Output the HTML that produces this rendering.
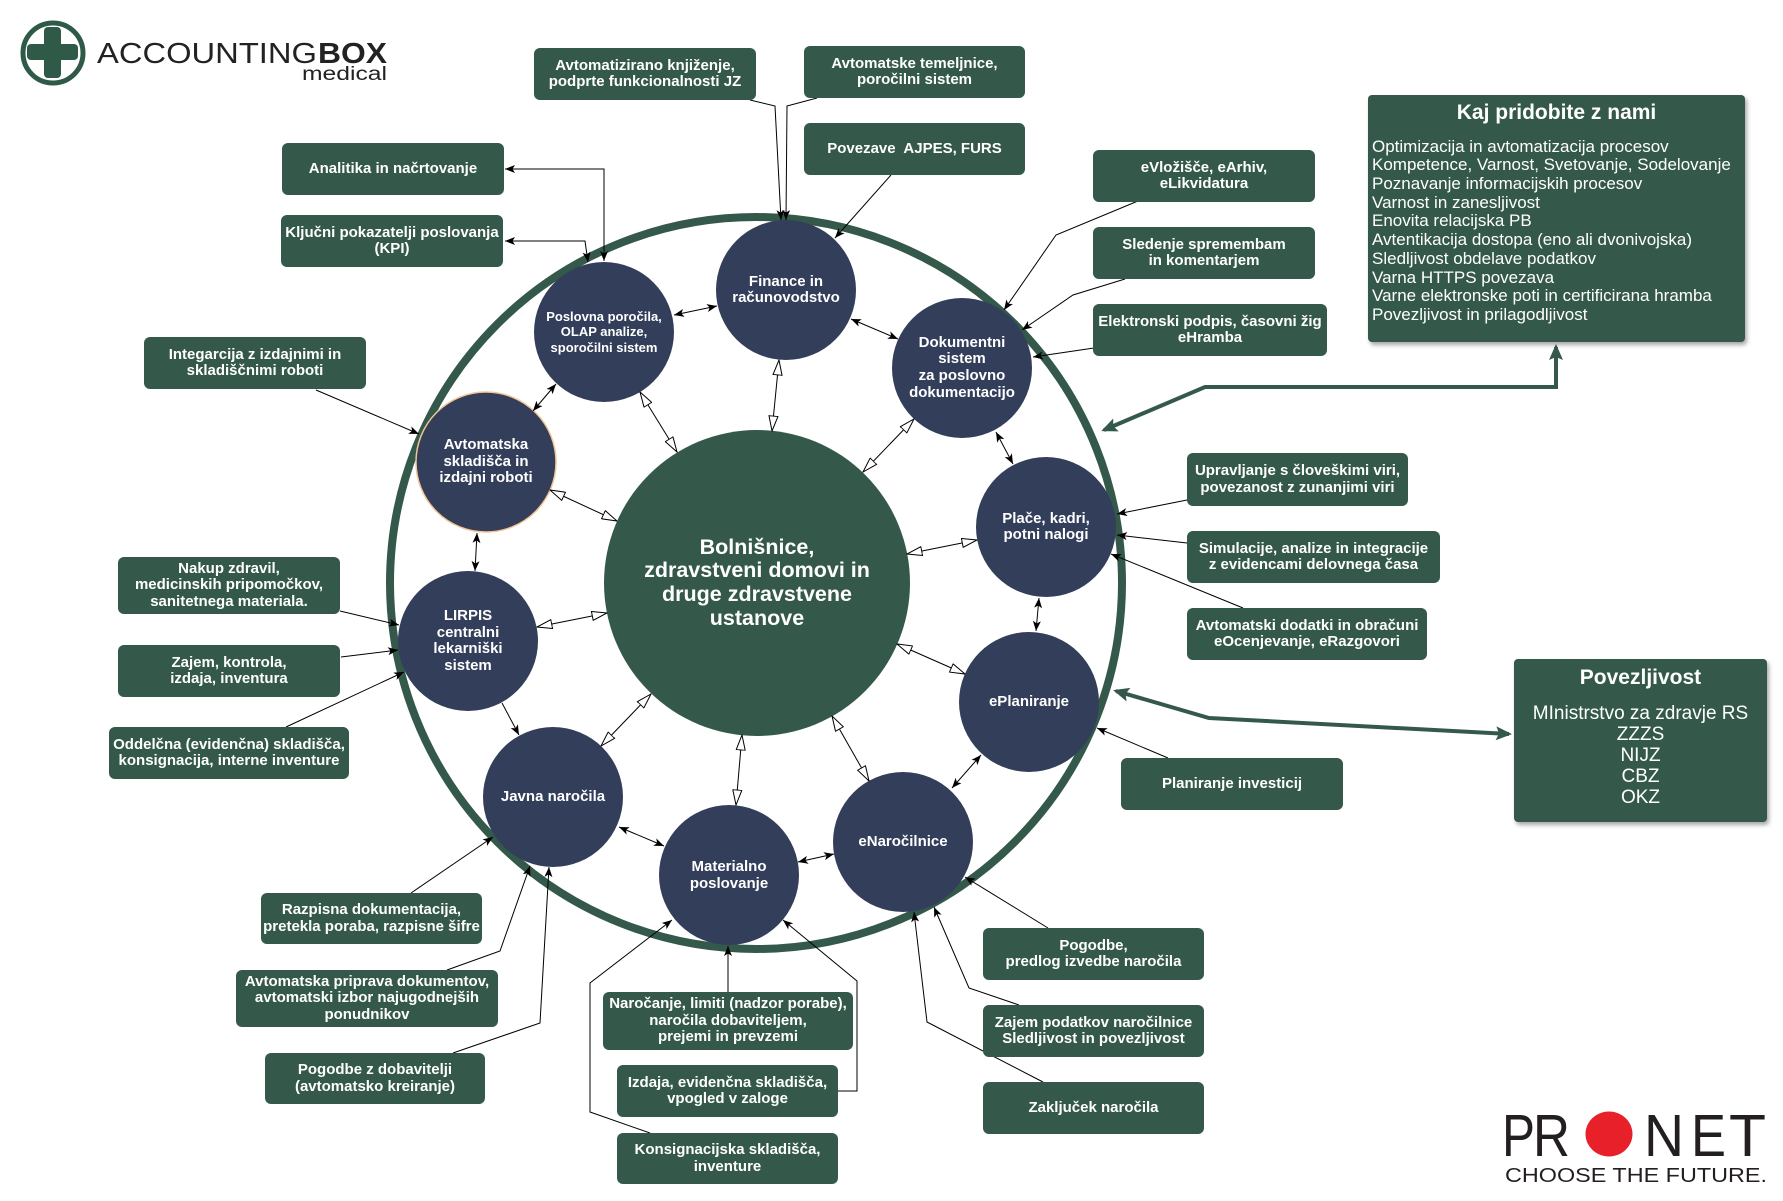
<!DOCTYPE html>
<html><head><meta charset="utf-8">
<style>
html,body{margin:0;padding:0;background:#fff;}
#c{position:relative;width:1783px;height:1201px;overflow:hidden;background:#fff;font-family:"Liberation Sans",Arial,sans-serif;}
svg{position:absolute;left:0;top:0;}
.b{position:absolute;background:#34594b;border-radius:6px;color:#fff;font-weight:bold;font-size:15px;line-height:16.5px;display:flex;align-items:center;justify-content:center;text-align:center;white-space:nowrap;}
.t{position:absolute;width:140px;height:140px;color:#fff;font-weight:bold;font-size:15px;line-height:16.5px;display:flex;align-items:center;justify-content:center;text-align:center;white-space:nowrap;}
</style></head><body><div id="c">
<svg width="1783" height="1201" viewBox="0 0 1783 1201">
<defs>
<marker id="bk" viewBox="0 0 10 8" refX="10" refY="4" markerWidth="10" markerHeight="8" markerUnits="userSpaceOnUse" orient="auto-start-reverse"><path d="M0,0 L10,4 L0,8 L2.5,4 z" fill="#000"/></marker>
<marker id="ho" viewBox="0 0 16 10" refX="15.5" refY="5" markerWidth="16" markerHeight="10" markerUnits="userSpaceOnUse" orient="auto-start-reverse"><path d="M0.5,0.5 L15.5,5 L0.5,9.5 z" fill="#fff" stroke="#000" stroke-width="1"/></marker>
<marker id="gr" viewBox="0 0 16 14" refX="13" refY="7" markerWidth="16" markerHeight="14" markerUnits="userSpaceOnUse" orient="auto-start-reverse"><path d="M0,0 L16,7 L0,14 L3,7 z" fill="#34594b"/></marker>
</defs>

<!-- logo -->
<circle cx="53" cy="53" r="30" fill="none" stroke="#2f5a48" stroke-width="5"/>
<rect x="44" y="27" width="17" height="51" rx="4" fill="#2f5a48"/>
<rect x="27" y="44" width="51" height="16" rx="4" fill="#2f5a48"/>
<text x="97" y="63" font-family="Liberation Sans, sans-serif" font-size="29" fill="#222" textLength="220" lengthAdjust="spacingAndGlyphs">ACCOUNTING</text>
<text x="318" y="63" font-family="Liberation Sans, sans-serif" font-size="29" font-weight="bold" fill="#222" textLength="69" lengthAdjust="spacingAndGlyphs">BOX</text>
<text x="302" y="80" font-family="Liberation Sans, sans-serif" font-size="19" fill="#222" textLength="85" lengthAdjust="spacingAndGlyphs">medical</text>

<!-- ring -->
<circle cx="756" cy="583" r="366" fill="none" stroke="#34594b" stroke-width="8"/>

<!-- center -->
<circle cx="757" cy="583" r="153" fill="#34594b"/>

<!-- satellites -->
<g fill="#333e5a">
<circle cx="786" cy="290" r="70"/>
<circle cx="604" cy="332" r="70"/>
<circle cx="962" cy="368" r="70"/>
<circle cx="486" cy="462" r="70" stroke="#f2c594" stroke-width="1.5"/>
<circle cx="468" cy="641" r="70"/>
<circle cx="553" cy="797" r="70"/>
<circle cx="729" cy="875" r="70"/>
<circle cx="903" cy="842" r="70"/>
<circle cx="1029" cy="702" r="70"/>
<circle cx="1046" cy="527" r="70"/>
</g>

<!-- hollow connectors -->
<g fill="none" stroke="#000" stroke-width="1" marker-start="url(#ho)" marker-end="url(#ho)">
<line x1="640" y1="392" x2="677" y2="452"/>
<line x1="779" y1="360" x2="772" y2="431"/>
<line x1="914" y1="419" x2="863" y2="472"/>
<line x1="550" y1="490" x2="617" y2="521"/>
<line x1="537" y1="627" x2="607" y2="613"/>
<line x1="601" y1="746" x2="651" y2="694"/>
<line x1="736" y1="805" x2="742" y2="735"/>
<line x1="869" y1="781" x2="832" y2="716"/>
<line x1="965" y1="674" x2="897" y2="644"/>
<line x1="977" y1="540" x2="907" y2="554"/>
</g>

<!-- satellite-satellite double arrows -->
<g fill="none" stroke="#000" stroke-width="1" marker-start="url(#bk)" marker-end="url(#bk)">
<line x1="674" y1="315" x2="717" y2="306"/>
<line x1="851" y1="319" x2="898" y2="339"/>
<line x1="996" y1="432" x2="1013" y2="464"/>
<line x1="1039" y1="598" x2="1036" y2="631"/>
<line x1="981" y1="755" x2="952" y2="788"/>
<line x1="834" y1="854" x2="798" y2="862"/>
<line x1="664" y1="846" x2="619" y2="827"/>
<line x1="475" y1="571" x2="477" y2="533"/>
<line x1="533" y1="411" x2="556" y2="384"/>
<polyline points="505,169 604,169 604,261"/>
<polyline points="505,241 585,241 588,262"/>
</g>

<!-- single arrows -->
<g fill="none" stroke="#000" stroke-width="1" marker-end="url(#bk)">
<line x1="502" y1="703" x2="519" y2="735"/>
<polyline points="750,100 775,106 781,220"/>
<polyline points="817,98 787,106 786,220"/>
<polyline points="891,175 835,238"/>
<polyline points="1138,201 1056,235 1004,310"/>
<polyline points="1125,279 1073,295 1022,330"/>
<polyline points="1094,348 1033,357"/>
<polyline points="316,390 419,434"/>
<polyline points="340,611 399,625"/>
<polyline points="341,657 398,650"/>
<polyline points="286,727 404,672"/>
<polyline points="1187,500 1117,514"/>
<polyline points="1187,543 1117,535"/>
<polyline points="1243,608 1111,554"/>
<polyline points="1168,758 1097,728"/>
<polyline points="411,893 493,837"/>
<polyline points="447,970 500,951 530,866"/>
<polyline points="453,1053 540,1023 549,867"/>
<polyline points="728,992 728,946"/>
<polyline points="838,1091 857,1091 857,981 783,920"/>
<polyline points="650,1133 590,1112 590,983 672,920"/>
<polyline points="1048,928 965,877"/>
<polyline points="1019,1005 969,988 934,907"/>
<polyline points="1043,1082 927,1022 914,912"/>
</g>

<!-- thick green arrows -->
<g fill="none" stroke="#34594b" stroke-width="4" marker-start="url(#gr)" marker-end="url(#gr)">
<polyline points="1104,430 1205,387 1556,387 1556,347"/>
<polyline points="1116,691 1209,718 1509,734"/>
</g>

<!-- pronet -->
<g font-family="Liberation Sans, sans-serif" fill="#231f20" font-size="59">
<text x="1502" y="1156" textLength="33" lengthAdjust="spacingAndGlyphs">P</text>
<text x="1533" y="1156" textLength="37" lengthAdjust="spacingAndGlyphs">R</text>
<text x="1644" y="1156" textLength="40" lengthAdjust="spacingAndGlyphs">N</text>
<text x="1691" y="1156" textLength="35" lengthAdjust="spacingAndGlyphs">E</text>
<text x="1729" y="1156" textLength="37" lengthAdjust="spacingAndGlyphs">T</text>
</g>
<ellipse cx="1609" cy="1134" rx="23.5" ry="22.5" fill="#e8202a"/>
<text x="1505" y="1182" font-family="Liberation Sans, sans-serif" font-size="20" fill="#231f20" textLength="262" lengthAdjust="spacingAndGlyphs">CHOOSE THE FUTURE.</text>
</svg>

<!-- circle texts -->
<div class="t" style="left:547px;top:443px;width:420px;height:280px;font-size:21.5px;line-height:23.7px;">Bolnišnice,<br>zdravstveni domovi in<br>druge zdravstvene<br>ustanove</div>
<div class="t" style="left:716px;top:220px;line-height:16px;">Finance in<br>računovodstvo</div>
<div class="t" style="left:534px;top:262px;font-size:13px;line-height:15.5px;">Poslovna poročila,<br>OLAP analize,<br>sporočilni sistem</div>
<div class="t" style="left:892px;top:298px;line-height:16.7px;">Dokumentni<br>sistem<br>za poslovno<br>dokumentacijo</div>
<div class="t" style="left:416px;top:392px;">Avtomatska<br>skladišča in<br>izdajni roboti</div>
<div class="t" style="left:398px;top:571px;">LIRPIS<br>centralni<br>lekarniški<br>sistem</div>
<div class="t" style="left:483px;top:727px;">Javna naročila</div>
<div class="t" style="left:659px;top:805px;line-height:17px;">Materialno<br>poslovanje</div>
<div class="t" style="left:833px;top:772px;">eNaročilnice</div>
<div class="t" style="left:959px;top:632px;">ePlaniranje</div>
<div class="t" style="left:976px;top:457px;line-height:16px;">Plače, kadri,<br>potni nalogi</div>

<!-- boxes -->
<div class="b" style="left:534px;top:48px;width:222px;height:52px;">Avtomatizirano knjiženje,<br>podprte funkcionalnosti JZ</div>
<div class="b" style="left:804px;top:46px;width:221px;height:52px;">Avtomatske temeljnice,<br>poročilni sistem</div>
<div class="b" style="left:804px;top:123px;width:221px;height:52px;">Povezave&nbsp; AJPES, FURS</div>
<div class="b" style="left:282px;top:143px;width:222px;height:52px;">Analitika in načrtovanje</div>
<div class="b" style="left:281px;top:215px;width:222px;height:52px;">Ključni pokazatelji poslovanja<br>(KPI)</div>
<div class="b" style="left:144px;top:337px;width:222px;height:52px;">Integarcija z izdajnimi in<br>skladiščnimi roboti</div>
<div class="b" style="left:1093px;top:150px;width:222px;height:52px;">eVložišče, eArhiv,<br>eLikvidatura</div>
<div class="b" style="left:1093px;top:227px;width:222px;height:52px;">Sledenje spremembam<br>in komentarjem</div>
<div class="b" style="left:1093px;top:304px;width:234px;height:52px;">Elektronski podpis, časovni žig<br>eHramba</div>
<div class="b" style="left:1187px;top:453px;width:221px;height:53px;">Upravljanje s človeškimi viri,<br>povezanost z zunanjimi viri</div>
<div class="b" style="left:1187px;top:531px;width:253px;height:52px;">Simulacije, analize in integracije<br>z evidencami delovnega časa</div>
<div class="b" style="left:1187px;top:608px;width:240px;height:52px;">Avtomatski dodatki in obračuni<br>eOcenjevanje, eRazgovori</div>
<div class="b" style="left:1121px;top:758px;width:222px;height:52px;">Planiranje investicij</div>
<div class="b" style="left:118px;top:557px;width:222px;height:57px;">Nakup zdravil,<br>medicinskih pripomočkov,<br>sanitetnega materiala.</div>
<div class="b" style="left:118px;top:645px;width:222px;height:52px;">Zajem, kontrola,<br>izdaja, inventura</div>
<div class="b" style="left:109px;top:727px;width:240px;height:52px;">Oddelčna (evidenčna) skladišča,<br>konsignacija, interne inventure</div>
<div class="b" style="left:261px;top:893px;width:221px;height:51px;">Razpisna dokumentacija,<br>pretekla poraba, razpisne šifre</div>
<div class="b" style="left:236px;top:970px;width:262px;height:57px;">Avtomatska priprava dokumentov,<br>avtomatski izbor najugodnejših<br>ponudnikov</div>
<div class="b" style="left:265px;top:1053px;width:220px;height:51px;">Pogodbe z dobavitelji<br>(avtomatsko kreiranje)</div>
<div class="b" style="left:603px;top:992px;width:250px;height:58px;">Naročanje, limiti (nadzor porabe),<br>naročila dobaviteljem,<br>prejemi in prevzemi</div>
<div class="b" style="left:617px;top:1065px;width:221px;height:52px;">Izdaja, evidenčna skladišča,<br>vpogled v zaloge</div>
<div class="b" style="left:617px;top:1133px;width:221px;height:51px;">Konsignacijska skladišča,<br>inventure</div>
<div class="b" style="left:983px;top:928px;width:221px;height:52px;">Pogodbe,<br>predlog izvedbe naročila</div>
<div class="b" style="left:983px;top:1005px;width:221px;height:52px;">Zajem podatkov naročilnice<br>Sledljivost in povezljivost</div>
<div class="b" style="left:983px;top:1082px;width:221px;height:52px;">Zaključek naročila</div>

<!-- Kaj pridobite -->
<div style="position:absolute;left:1368px;top:95px;width:377px;height:247px;background:#34594b;border-radius:4px;box-shadow:2px 3px 4px rgba(0,0,0,0.35);color:#fff;box-sizing:border-box;padding:6px 0 0 4px;white-space:nowrap;">
<div style="font-weight:bold;font-size:21px;line-height:24px;text-align:center;padding-right:4px;">Kaj pridobite z nami</div>
<div style="margin-top:12.6px;font-size:17px;line-height:18.7px;">Optimizacija in avtomatizacija procesov<br>Kompetence, Varnost, Svetovanje, Sodelovanje<br>Poznavanje informacijskih procesov<br>Varnost in zanesljivost<br>Enovita relacijska PB<br>Avtentikacija dostopa (eno ali dvonivojska)<br>Sledljivost obdelave podatkov<br>Varna HTTPS povezava<br>Varne elektronske poti in certificirana hramba<br>Povezljivost in prilagodljivost</div>
</div>

<!-- Povezljivost -->
<div style="position:absolute;left:1514px;top:659px;width:253px;height:163px;background:#34594b;border-radius:4px;box-shadow:2px 3px 4px rgba(0,0,0,0.35);color:#fff;box-sizing:border-box;padding-top:7px;text-align:center;white-space:nowrap;">
<div style="font-weight:bold;font-size:21px;line-height:24px;">Povezljivost</div>
<div style="margin-top:12.5px;font-size:19px;line-height:21px;">MInistrstvo za zdravje RS<br>ZZZS<br>NIJZ<br>CBZ<br>OKZ</div>
</div>

</div></body></html>
